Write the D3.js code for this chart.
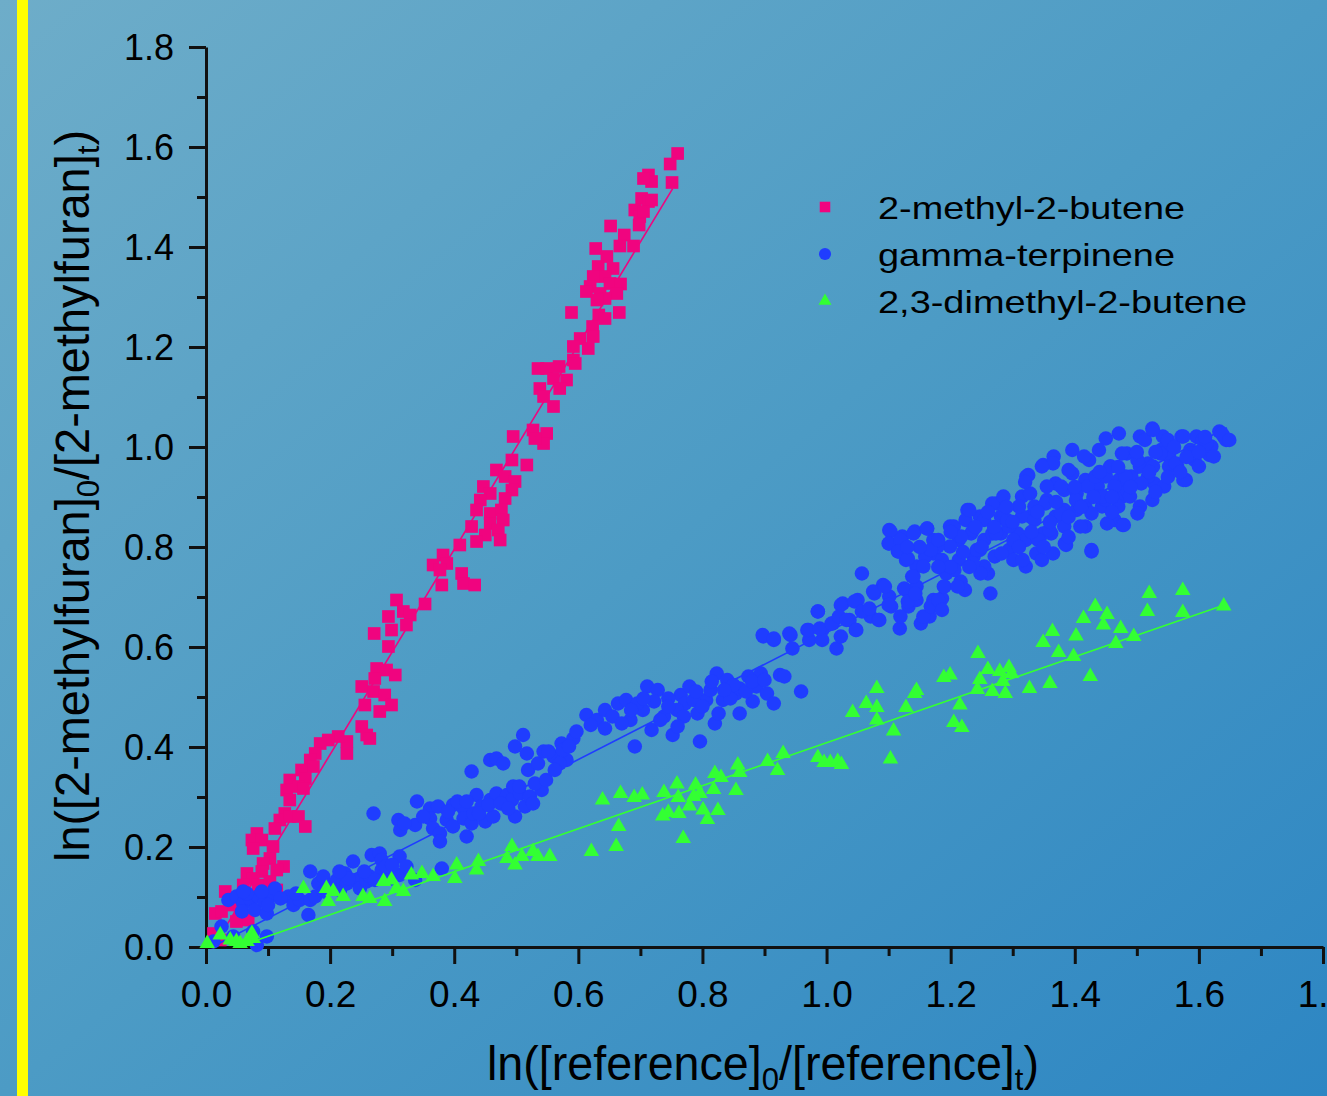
<!DOCTYPE html>
<html>
<head>
<meta charset="utf-8">
<script src="https://cdn.jsdelivr.net/npm/d3@7"></script>
<style>
  html, body { margin: 0; padding: 0; overflow: hidden; }
  text { font-family: "Liberation Sans", Arial, sans-serif; fill: #000; }
</style>
</head>
<body>
<script>
// series names and tick labels
var seriesNames = ["2-methyl-2-butene", "gamma-terpinene", "2,3-dimethyl-2-butene"];
var xTickLabels = ["0.0","0.2","0.4","0.6","0.8","1.0","1.2","1.4","1.6","1.8"];
var yTickLabels = ["0.0","0.2","0.4","0.6","0.8","1.0","1.2","1.4","1.6","1.8"];

// [x, y] pairs
var methylButene = [
 [0.760,1.587],[0.748,1.566],[0.751,1.529],[0.713,1.544],[0.718,1.531],[0.705,1.537],[0.702,1.497],[0.713,1.491],
 [0.718,1.494],[0.691,1.474],[0.699,1.461],[0.705,1.471],[0.698,1.444],[0.652,1.442],[0.674,1.424],[0.667,1.402],
 [0.689,1.402],[0.628,1.397],[0.646,1.381],[0.632,1.361],[0.656,1.357],[0.643,1.341],[0.624,1.341],[0.651,1.327],
 [0.668,1.326],[0.619,1.321],[0.613,1.311],[0.635,1.307],[0.662,1.307],[0.643,1.297],[0.630,1.294],[0.589,1.269],
 [0.666,1.269],[0.633,1.264],[0.643,1.257],[0.623,1.241],[0.624,1.221],[0.603,1.217],[0.592,1.201],[0.616,1.197],
 [0.592,1.174],[0.595,1.167],[0.569,1.161],[0.535,1.157],[0.549,1.157],[0.560,1.137],[0.581,1.134],[0.570,1.117],
 [0.538,1.117],[0.544,1.101],[0.560,1.081],[0.495,1.021],[0.527,1.034],[0.549,1.027],[0.544,1.007],[0.530,1.017],
 [0.493,0.974],[0.517,0.964],[0.468,0.954],[0.482,0.941],[0.498,0.931],[0.493,0.914],[0.447,0.921],[0.458,0.907],
 [0.442,0.894],[0.482,0.897],[0.436,0.874],[0.458,0.867],[0.476,0.874],[0.479,0.854],[0.428,0.841],[0.458,0.847],
 [0.471,0.834],[0.474,0.814],[0.450,0.824],[0.436,0.811],[0.409,0.804],[0.382,0.784],[0.366,0.764],[0.388,0.767],
 [0.377,0.754],[0.412,0.747],[0.380,0.724],[0.415,0.727],[0.433,0.724],
 [0.307,0.694],[0.318,0.671],[0.329,0.664],[0.353,0.686],[0.294,0.661],[0.323,0.644],[0.299,0.634],[0.271,0.627],
 [0.294,0.601],[0.275,0.557],[0.291,0.554],[0.305,0.544],[0.272,0.537],[0.251,0.521],[0.270,0.511],[0.288,0.504],
 [0.299,0.484],[0.256,0.484],[0.280,0.471],[0.251,0.441],[0.259,0.424],[0.264,0.417],[0.227,0.411],[0.213,0.421],
 [0.197,0.414],[0.184,0.407],[0.176,0.387],[0.227,0.387],[0.168,0.374],[0.154,0.354],[0.173,0.361],[0.160,0.337],
 [0.135,0.334],[0.149,0.321],[0.130,0.314],[0.157,0.317],[0.135,0.294],[0.127,0.267],[0.119,0.254],[0.135,0.261],
 [0.149,0.261],[0.160,0.241],[0.111,0.237],[0.082,0.227],[0.074,0.214],[0.090,0.214],[0.108,0.201],[0.076,0.197],
 [0.103,0.177],[0.092,0.167],[0.125,0.161],[0.114,0.154],[0.090,0.151],[0.066,0.147],[0.076,0.137],[0.060,0.124],
 [0.084,0.124],[0.103,0.131],[0.114,0.114],[0.044,0.084],[0.031,0.111],[0.015,0.067],[0.025,0.071],[0.055,0.061],
 [0.068,0.054],[0.049,0.051],[0.012,0.027],[0.023,0.014]
];

var terpinene = [
 [0.012,0.011],[0.025,0.041],[0.044,0.021],[0.082,0.004],[0.098,0.021],[0.076,0.031],[0.036,0.094],[0.049,0.101],
 [0.060,0.087],[0.071,0.097],[0.058,0.071],[0.079,0.074],[0.084,0.101],[0.095,0.091],[0.106,0.104],[0.111,0.117],
 [0.098,0.067],[0.066,0.107],[0.133,0.101],[0.141,0.084],[0.151,0.094],[0.165,0.064],[0.168,0.094],[0.168,0.151],
 [0.181,0.127],[0.189,0.141],[0.176,0.101],[0.200,0.124],[0.211,0.134],[0.224,0.147],[0.216,0.114],[0.227,0.127],
 [0.237,0.171],[0.243,0.134],[0.248,0.117],[0.259,0.131],[0.264,0.141],[0.267,0.184],[0.280,0.187],[0.283,0.174],
 [0.283,0.154],[0.272,0.134],[0.299,0.137],[0.312,0.181],[0.312,0.144],[0.323,0.161],[0.337,0.134],[0.380,0.157],
 [0.120,0.097],[0.090,0.111],[0.145,0.107],[0.190,0.111],[0.230,0.137],[0.255,0.151],[0.290,0.161],[0.300,0.164],
 [0.215,0.151],[0.060,0.111],[0.100,0.084],
 [0.270,0.267],[0.310,0.254],[0.313,0.234],[0.337,0.244],[0.340,0.291],[0.361,0.277],[0.374,0.281],[0.361,0.257],
 [0.366,0.237],[0.377,0.227],[0.377,0.211],[0.388,0.254],[0.398,0.284],[0.398,0.241],[0.415,0.277],[0.415,0.257],
 [0.420,0.221],[0.428,0.351],[0.428,0.247],[0.431,0.267],[0.436,0.304],[0.444,0.281],[0.450,0.251],[0.458,0.294],
 [0.463,0.261],[0.468,0.307],[0.458,0.374],[0.468,0.377],[0.479,0.367],[0.485,0.304],[0.493,0.294],[0.495,0.321],
 [0.498,0.401],[0.498,0.261],[0.506,0.307],[0.511,0.424],[0.514,0.281],[0.517,0.387],[0.519,0.354],[0.522,0.301],
 [0.527,0.287],[0.535,0.367],[0.541,0.314],[0.544,0.391],[0.560,0.381],[0.573,0.407],[0.581,0.374],[0.592,0.417],
 [0.597,0.431],[0.570,0.367],[0.552,0.391],
 [0.390,0.271],[0.405,0.291],[0.440,0.267],[0.455,0.284],[0.475,0.287],[0.487,0.277],[0.505,0.321],[0.530,0.327],
 [0.548,0.334],[0.562,0.354],[0.575,0.394],[0.585,0.401],[0.350,0.261],[0.320,0.247],[0.420,0.291],
 [0.613,0.464],[0.630,0.454],[0.643,0.437],[0.664,0.487],[0.677,0.494],[0.691,0.401],[0.711,0.521],[0.728,0.514],
 [0.704,0.474],[0.718,0.434],[0.738,0.461],[0.752,0.424],[0.765,0.504],[0.779,0.521],[0.792,0.467],[0.806,0.494],
 [0.796,0.411],[0.820,0.447],[0.823,0.547],[0.840,0.534],[0.833,0.494],[0.854,0.507],[0.860,0.467],[0.874,0.541],
 [0.881,0.491],[0.887,0.521],[0.894,0.547],[0.904,0.507],[0.915,0.487],[0.925,0.544],[0.932,0.541],[0.959,0.511],
 [0.860,0.517],[0.772,0.487],[0.826,0.467],[0.786,0.494],[0.643,0.474],[0.684,0.454],[0.759,0.474],[0.813,0.514],
 [0.732,0.454],
 [0.620,0.444],[0.655,0.461],[0.670,0.447],[0.695,0.487],[0.722,0.491],[0.745,0.497],[0.770,0.461],[0.790,0.511],
 [0.800,0.481],[0.815,0.531],[0.845,0.497],[0.850,0.524],[0.870,0.511],[0.880,0.531],[0.900,0.534],[0.745,0.481],
 [0.705,0.497],[0.685,0.474],[0.760,0.441],[0.835,0.514],
 [0.898,0.621],[0.915,0.614],[0.942,0.624],[0.945,0.597],[0.969,0.634],[0.972,0.614],[0.986,0.671],[0.993,0.634],
 [0.993,0.614],[1.010,0.647],[1.016,0.597],[1.023,0.621],[1.026,0.687],[1.037,0.654],[1.047,0.634],[1.050,0.694],
 [1.057,0.747],[1.071,0.661],[1.077,0.707],[1.084,0.654],[1.091,0.724],[1.104,0.681],[1.118,0.637],[1.128,0.714],
 [1.132,0.681],[1.145,0.694],[1.152,0.647],[1.166,0.661],[1.172,0.694],[1.182,0.681],[1.186,0.697],[1.145,0.721],
 [1.101,0.701],
 [0.897,0.624],[0.915,0.617],[0.940,0.627],[0.971,0.634],[0.986,0.671],[0.989,0.637],[1.008,0.647],[1.023,0.684],
 [1.020,0.661],[1.032,0.654],[1.045,0.691],[1.048,0.634],[1.057,0.671],[1.069,0.677],[1.075,0.711],[1.085,0.654],
 [1.094,0.721],[1.100,0.684],[1.119,0.661],[1.125,0.717],[1.131,0.691],[1.143,0.707],[1.156,0.661],[1.168,0.681],
 [1.180,0.694],[1.186,0.674],
 [1.101,0.834],[1.101,0.807],[1.115,0.791],[1.128,0.774],[1.122,0.821],[1.142,0.831],[1.162,0.837],[1.138,0.741],
 [1.145,0.761],[1.172,0.814],[1.172,0.787],[1.186,0.761],[1.189,0.721],[1.199,0.841],[1.213,0.814],[1.216,0.731],
 [1.223,0.714],[1.227,0.874],[1.237,0.781],[1.247,0.861],[1.254,0.814],[1.260,0.747],[1.264,0.707],[1.271,0.781],
 [1.274,0.887],[1.288,0.854],[1.294,0.794],[1.308,0.827],[1.315,0.901],[1.321,0.761],[1.325,0.944],[1.328,0.861],
 [1.338,0.787],[1.349,0.964],[1.355,0.894],[1.362,0.827],[1.366,0.981],[1.369,0.927],[1.383,0.874],[1.386,0.804],
 [1.396,0.994],[1.396,0.947],[1.403,0.907],[1.417,0.841],[1.423,0.974],[1.427,0.791],[1.437,0.921],[1.444,0.881],
 [1.450,1.017],[1.457,0.961],[1.464,0.854],[1.471,1.027],[1.477,0.901],[1.484,0.987],[1.491,0.941],[1.505,1.021],
 [1.505,0.881],[1.518,0.967],[1.525,0.894],[1.528,0.927],[1.525,1.037],[1.542,1.021],[1.552,0.981],[1.572,1.021],
 [1.579,0.934],[1.565,0.961],[1.593,0.974],[1.596,1.021],[1.617,0.984],[1.620,1.001],[1.633,1.031],[1.640,1.021],
 [1.644,1.014],[1.315,0.861],[1.281,0.827],[1.247,0.794],[1.213,0.774],[1.199,0.801],[1.349,0.827],[1.383,0.841],
 [1.417,0.881],[1.450,0.894],[1.484,0.914],[1.518,0.941],[1.552,0.961],[1.586,0.994],[1.383,0.914],[1.450,0.941],
 [1.335,0.881],[1.294,0.841],[1.267,0.827],[1.355,0.921],[1.417,0.934],[1.179,0.801],[1.233,0.827],[1.281,0.861],
 [1.321,0.814],[1.403,0.874],[1.437,0.901],[1.471,0.934],[1.505,0.961],[1.539,0.994],[1.606,1.014],[1.159,0.781],
 [1.254,0.761],[1.301,0.774],[1.206,0.754],[1.369,0.861],[1.477,0.844],
 [1.103,0.831],[1.100,0.807],[1.119,0.814],[1.116,0.791],[1.131,0.777],[1.140,0.827],[1.162,0.837],[1.140,0.741],
 [1.156,0.761],[1.168,0.794],[1.180,0.814],[1.186,0.774],[1.193,0.747],[1.190,0.721],[1.211,0.721],[1.205,0.841],
 [1.217,0.821],[1.224,0.854],[1.230,0.874],[1.236,0.834],[1.242,0.794],[1.236,0.767],[1.248,0.747],[1.254,0.854],
 [1.267,0.887],[1.273,0.827],[1.285,0.901],[1.282,0.787],[1.291,0.854],[1.301,0.814],[1.310,0.881],[1.316,0.774],
 [1.328,0.907],[1.335,0.854],[1.341,0.814],[1.347,0.774],[1.353,0.887],[1.359,0.834],[1.365,0.787],[1.378,0.921],
 [1.378,0.867],[1.384,0.807],[1.390,0.954],[1.402,0.894],[1.409,0.841],[1.415,0.981],[1.421,0.921],[1.427,0.867],
 [1.433,0.941],[1.439,0.994],[1.446,0.901],[1.452,0.847],[1.458,0.961],[1.464,0.921],[1.470,0.881],[1.476,0.987],
 [1.482,0.941],[1.489,0.901],[1.501,0.974],[1.501,0.867],[1.507,0.927],[1.513,1.014],[1.526,0.961],[1.526,1.034],
 [1.538,0.987],[1.544,0.921],[1.550,1.014],[1.563,0.967],[1.575,0.934],[1.575,1.021],[1.587,0.987],[1.600,0.961],
 [1.612,1.007],[1.624,0.981],[1.637,1.027],[1.649,1.014],[1.427,0.794],[1.479,0.844],[1.365,0.967],[1.347,0.961],
 [1.322,0.941],
 [1.220,0.790],[1.250,0.800],[1.270,0.840],[1.300,0.850],[1.310,0.800],[1.330,0.830],[1.340,0.870],[1.360,0.850],
 [1.370,0.890],[1.390,0.860],[1.400,0.920],[1.410,0.880],[1.430,0.900],[1.440,0.950],[1.460,0.900],[1.470,0.960],
 [1.490,0.920],[1.500,0.990],[1.520,0.950],[1.530,0.990],[1.550,0.940],[1.560,1.000],[1.580,0.980],[1.600,0.990],
 [1.610,1.020],[1.200,0.760],[1.230,0.760],[1.180,0.760],[1.260,0.870],[1.290,0.880],[1.320,0.930],[1.200,0.830],
 [1.150,0.800],[1.130,0.800],[1.240,0.840],[1.350,0.800],[1.390,0.820],[1.460,0.870],[1.530,0.910],[1.570,0.950]
];

var dimethylButene = [
 [0.002,0.007],[0.023,0.024],[0.039,0.014],[0.049,0.011],[0.055,0.007],[0.074,0.027],[0.076,0.017],[0.066,0.011],
 [0.157,0.117],[0.197,0.091],[0.194,0.117],[0.205,0.111],[0.221,0.101],[0.253,0.101],[0.264,0.097],[0.288,0.091],
 [0.286,0.131],[0.299,0.134],[0.307,0.117],[0.318,0.111],[0.331,0.144],[0.348,0.147],[0.366,0.141],[0.404,0.164],
 [0.401,0.137],[0.439,0.171],[0.436,0.154],[0.493,0.201],[0.485,0.177],[0.498,0.164],[0.509,0.181],[0.527,0.191],
 [0.535,0.181],[0.554,0.181],
 [0.621,0.191],[0.661,0.201],[0.665,0.241],[0.639,0.294],[0.668,0.307],[0.690,0.299],[0.703,0.304],[0.738,0.309],
 [0.759,0.326],[0.761,0.299],[0.789,0.324],[0.796,0.307],[0.786,0.301],[0.818,0.315],[0.854,0.313],[0.779,0.282],
 [0.745,0.269],[0.736,0.262],[0.762,0.267],[0.801,0.274],[0.808,0.255],[0.825,0.273],[0.769,0.217],
 [0.857,0.364],[0.860,0.349],[0.820,0.347],[0.830,0.339],[0.930,0.387],[0.905,0.371],[0.921,0.353],[0.986,0.379],
 [0.996,0.369],[1.006,0.369],[1.018,0.371],[1.024,0.365],[1.103,0.376],
 [1.081,0.517],[1.145,0.513],[1.142,0.507],[1.064,0.487],[1.081,0.479],[1.042,0.469],[1.128,0.479],[1.215,0.484],
 [1.081,0.454],[1.108,0.432],[1.205,0.449],[1.218,0.439],[1.199,0.544],[1.189,0.539],
 [1.244,0.587],[1.260,0.555],[1.279,0.551],[1.294,0.559],[1.298,0.547],[1.247,0.535],[1.284,0.531],[1.243,0.515],
 [1.267,0.511],[1.288,0.507],[1.327,0.517],[1.360,0.527],[1.364,0.631],[1.402,0.622],[1.349,0.609],[1.374,0.589],
 [1.398,0.581],[1.425,0.541],[1.433,0.681],[1.452,0.665],[1.414,0.657],[1.446,0.644],[1.474,0.637],[1.495,0.621],
 [1.466,0.607],[1.520,0.707],[1.574,0.713],[1.640,0.682],[1.517,0.671],[1.574,0.669]
];

// least-squares lines: [slope, intercept, xStart, xEnd]
var fitMethylButene = [2.05, -0.025, 0.012, 0.752];
var fitTerpinene = [0.635, -0.006, 0.010, 1.645];
var fitDimethylButene = [0.430, -0.0215, 0.050, 1.642];

var seriesData = [methylButene, terpinene, dimethylButene];
var seriesFits = [fitMethylButene, fitTerpinene, fitDimethylButene];
var seriesColors = ["#f0047f", "#1f3dff", "#33ff33"];
var seriesSymbols = [d3.symbolSquare, d3.symbolCircle, d3.symbolTriangle];
var symbolSizes = [160, 165, 105];

var W = 1327, H = 1096;
var svg = d3.select("body").append("svg").attr("width", W).attr("height", H);

// background
var defs = svg.append("defs");
var grad = defs.append("linearGradient").attr("id", "bg")
  .attr("x1", 0).attr("y1", 0).attr("x2", 1).attr("y2", 1);
grad.append("stop").attr("offset", "0%").attr("stop-color", "#6eadc9");
grad.append("stop").attr("offset", "50%").attr("stop-color", "#4c9bc5");
grad.append("stop").attr("offset", "100%").attr("stop-color", "#2d86c3");
svg.append("rect").attr("width", W).attr("height", H).attr("fill", "url(#bg)");
svg.append("rect").attr("x", 17).attr("y", 0).attr("width", 11).attr("height", H).attr("fill", "#ffff00");

var x = d3.scaleLinear().domain([0, 1.8]).range([206, 1323]);
var y = d3.scaleLinear().domain([0, 1.8]).range([947, 47]);

var majorVals = d3.range(0, 10).map(function(i) { return i * 0.2; });
var minorVals = d3.range(0, 9).map(function(i) { return 0.1 + i * 0.2; });

// minor ticks
svg.append("g").attr("transform", "translate(0,947)")
  .call(d3.axisBottom(x).tickValues(minorVals).tickSize(9).tickSizeOuter(0).tickFormat(""))
  .call(function(g) { g.select(".domain").remove(); });
svg.append("g").attr("transform", "translate(206,0)")
  .call(d3.axisLeft(y).tickValues(minorVals).tickSize(9).tickSizeOuter(0).tickFormat(""))
  .call(function(g) { g.select(".domain").remove(); });

// major ticks + labels
var xAxis = svg.append("g").attr("transform", "translate(0,947)")
  .call(d3.axisBottom(x).tickValues(majorVals).tickSize(17).tickSizeOuter(0)
    .tickFormat(function(d, i) { return xTickLabels[i]; }));
var yAxis = svg.append("g").attr("transform", "translate(206,0)")
  .call(d3.axisLeft(y).tickValues(majorVals).tickSize(17).tickSizeOuter(0)
    .tickFormat(function(d, i) { return yTickLabels[i]; }));

svg.selectAll(".tick line").attr("stroke", "#111").attr("stroke-width", 3);
svg.selectAll(".domain").attr("stroke", "#111").attr("stroke-width", 3);
xAxis.selectAll(".tick text").attr("font-size", 37).attr("font-family", "Liberation Sans, Arial, sans-serif")
  .attr("fill", "#000").attr("y", 34).attr("dy", "0.71em");
yAxis.selectAll(".tick text").attr("font-size", 36).attr("font-family", "Liberation Sans, Arial, sans-serif")
  .attr("fill", "#000").attr("x", -32).attr("dy", "0.35em");

// fit lines and points
for (var s = 0; s < 3; s++) {
  var f = seriesFits[s];
  var fitPts = [[f[2], f[0] * f[2] + f[1]], [f[3], f[0] * f[3] + f[1]]];
  var line = d3.line().x(function(d) { return x(d[0]); }).y(function(d) { return y(d[1]); });
  svg.append("path").attr("d", line(fitPts)).attr("fill", "none")
    .attr("stroke", seriesColors[s]).attr("stroke-width", 1.6);

  svg.append("g").selectAll("path.pt" + s)
    .data(seriesData[s])
    .enter().append("path")
      .attr("class", "pt" + s)
      .attr("d", d3.symbol().type(seriesSymbols[s]).size(symbolSizes[s]))
      .attr("transform", function(d) { return "translate(" + x(d[0]) + "," + y(d[1]) + ")"; })
      .attr("fill", seriesColors[s]);
}

// legend
var legendLengths = [307, 297, 369];
var legend = svg.append("g");
seriesNames.forEach(function(name, i) {
  var cy = 207 + i * 47;
  legend.append("path")
    .attr("d", d3.symbol().type(seriesSymbols[i]).size(symbolSizes[i] * 0.7)())
    .attr("transform", "translate(825," + cy + ")")
    .attr("fill", seriesColors[i]);
  legend.append("text").attr("x", 878).attr("y", cy).attr("dy", "0.36em")
    .attr("font-size", 32)
    .attr("textLength", legendLengths[i]).attr("lengthAdjust", "spacingAndGlyphs")
    .text(name);
});

// axis titles
var xt = svg.append("text").attr("x", 763).attr("y", 1080).attr("text-anchor", "middle")
  .attr("font-size", 48).attr("textLength", 552).attr("lengthAdjust", "spacingAndGlyphs");
xt.append("tspan").text("ln([reference]");
xt.append("tspan").attr("font-size", 32).attr("dy", 10).text("0");
xt.append("tspan").attr("dy", -10).text("/[reference]");
xt.append("tspan").attr("font-size", 32).attr("dy", 10).text("t");
xt.append("tspan").attr("dy", -10).text(")");

var yt = svg.append("text").attr("transform", "translate(89,496) rotate(-90)").attr("text-anchor", "middle")
  .attr("font-size", 48).attr("textLength", 732).attr("lengthAdjust", "spacingAndGlyphs");
yt.append("tspan").text("ln([2-methylfuran]");
yt.append("tspan").attr("font-size", 32).attr("dy", 10).text("0");
yt.append("tspan").attr("dy", -10).text("/[2-methylfuran]");
yt.append("tspan").attr("font-size", 32).attr("dy", 10).text("t");
yt.append("tspan").attr("dy", -10).text(")");
</script>
</body>
</html>
